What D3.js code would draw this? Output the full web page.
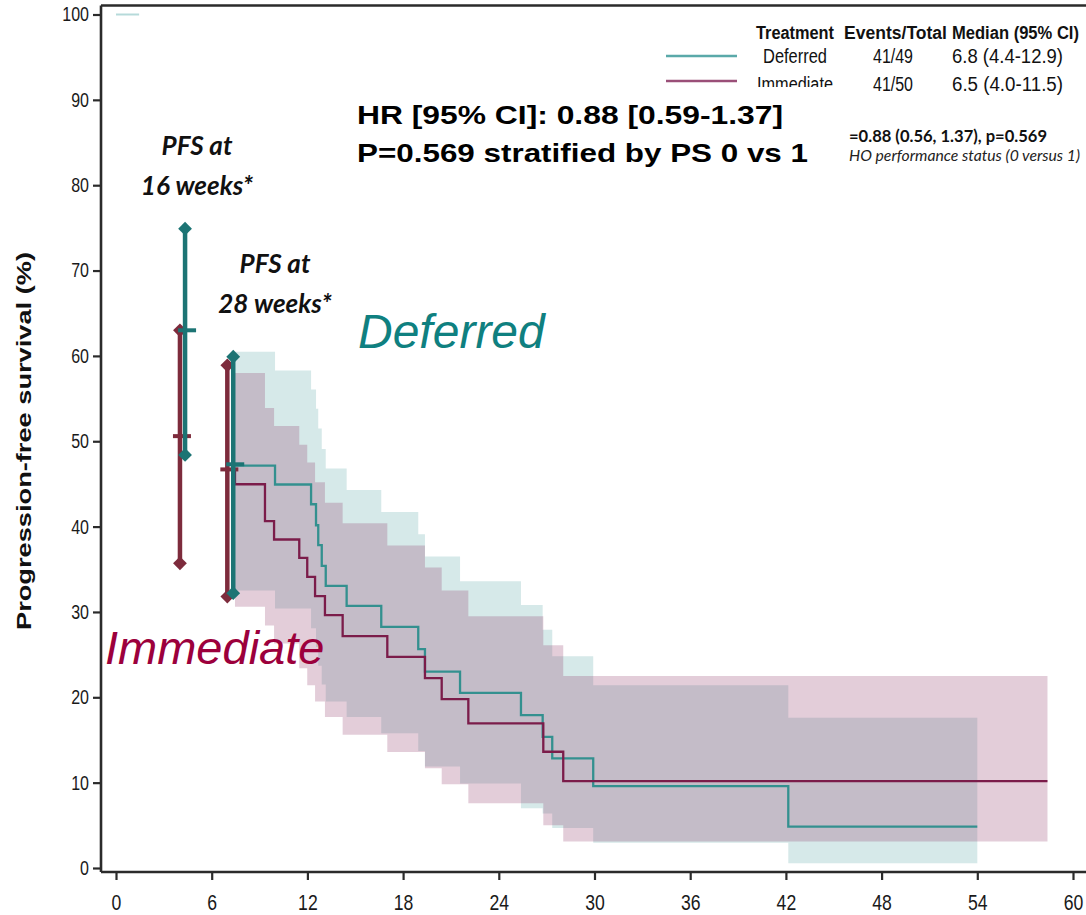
<!DOCTYPE html>
<html>
<head>
<meta charset="utf-8">
<script src="https://cdn.jsdelivr.net/npm/d3@7"></script>
<style>
  body { margin: 0; background: #fff; }
  svg { display: block; }
</style>
</head>
<body>
<div class="chart"></div>
<script>

// ---- data (weeks, % progression-free) ----
const xTicks = [0, 6, 12, 18, 24, 30, 36, 42, 48, 54, 60];
const yTicks = [0, 10, 20, 30, 40, 50, 60, 70, 80, 90, 100];

// Deferred arm: step times (last value = end of follow-up)
const defTimes = [7.34, 9.97, 12.23, 12.54, 12.68, 12.90, 13.15, 14.46, 16.63, 18.95, 19.37, 21.57, 25.39, 26.75, 27.35, 29.92, 42.15, 54.0];
const defSurv  = [47.15, 44.93, 42.62, 40.16, 37.82, 35.40, 33.06, 30.71, 28.26, 25.64, 23.01, 20.53, 17.92, 15.37, 12.85, 9.60, 4.84];
const defUpper = [60.5, 58.3, 56.05, 53.8, 51.5, 49.1, 46.8, 44.3, 41.7, 39.1, 36.5, 33.6, 30.8, 27.9, 24.8, 21.4, 17.6];
const defLower = [32.5, 30.4, 28.1, 25.9, 23.7, 21.5, 19.5, 17.7, 15.8, 13.7, 11.9, 9.9, 7.0, 6.4, 4.7, 2.96, 0.55];
const defEarlyTimes = [0, 1.45];
const defEarlySurv = 100;

// Immediate arm
const immTimes = [7.46, 9.34, 9.91, 11.49, 11.99, 12.48, 13.10, 14.21, 17.01, 19.37, 20.42, 22.09, 26.79, 28.04, 58.4];
const immSurv  = [44.96, 40.63, 38.49, 36.33, 34.11, 31.85, 29.63, 27.17, 24.74, 22.25, 19.79, 16.94, 13.62, 10.19];
const immUpper = [58.0, 53.9, 51.8, 49.6, 47.5, 45.2, 42.8, 40.4, 37.8, 35.2, 32.5, 29.5, 26.1, 22.5];
const immLower = [30.6, 28.4, 26.3, 23.4, 21.4, 19.5, 17.7, 15.6, 13.6, 11.7, 9.8, 7.6, 5.0, 3.1];
const immStartSurv = 46.8;

// PFS estimates at 16 and 28 weeks (position on axis, estimate, 95% CI)
const pfsLabels = [["PFS at", "16 weeks*"], ["PFS at", "28 weeks*"]];
const defBarX = [4.33, 7.35], defBarEst = [63.0, 47.3], defBarLo = [48.4, 32.2], defBarHi = [74.9, 59.9];
const immBarX = [4.01, 6.98], immBarEst = [50.6, 46.7], immBarLo = [35.7, 31.8], immBarHi = [63.0, 58.9];

// legend table
const legendHeader = ["Treatment", "Events/Total", "Median (95% CI)"];
const arms = ["Deferred", "Immediate"];
const events = ["41/49", "41/50"];
const medians = ["6.8 (4.4-12.9)", "6.5 (4.0-11.5)"];

const hrLines = ["HR [95% CI]: 0.88 [0.59-1.37]", "P=0.569 stratified by PS 0 vs 1"];
const hrSmall = ["=0.88 (0.56, 1.37), p=0.569", "HO performance status (0 versus 1)"];

// ---- colours ----
const teal = "#33908f", maroon = "#7b1c4a";
const tealBar = "#1c7474", maroonBar = "#7d2b3c";

let svg = d3.select(".chart").append("svg").attr("width", 1086).attr("height", 915);

let x = d3.scaleLinear().domain([0, 60]).range([116, 1073]);
let y = d3.scaleLinear().domain([0, 100]).range([868, 14.5]);

function steps(times, vals) {
  let pts = vals.map((v, i) => [times[i], v]);
  pts.push([times[times.length - 1], vals[vals.length - 1]]);
  return pts;
}
function bandPts(times, lo, hi) {
  let pts = lo.map((v, i) => ({t: times[i], lo: v, hi: hi[i]}));
  pts.push({t: times[times.length - 1], lo: lo[lo.length - 1], hi: hi[hi.length - 1]});
  return pts;
}

let line = d3.line().x(d => x(d[0])).y(d => y(d[1])).curve(d3.curveStepAfter);
let area = d3.area().x(d => x(d.t)).y0(d => y(d.lo)).y1(d => y(d.hi)).curve(d3.curveStepAfter);

// confidence bands
svg.append("path").attr("d", area(bandPts(defTimes, defLower, defUpper)))
  .attr("fill", "rgb(91,167,167)").attr("fill-opacity", 0.25);
svg.append("path").attr("d", area(bandPts(immTimes, immLower, immUpper)))
  .attr("fill", "rgb(138,47,97)").attr("fill-opacity", 0.24);

// KM lines
svg.append("path").attr("d", line(defEarlyTimes.map(t => [t, defEarlySurv])))
  .attr("fill", "none").attr("stroke", "#b6dada").attr("stroke-width", 2);
svg.append("path").attr("d", line(steps(defTimes, defSurv)))
  .attr("fill", "none").attr("stroke", teal).attr("stroke-width", 2.3);
svg.append("path").attr("d", line([[immTimes[0], immStartSurv]].concat(steps(immTimes, immSurv))))
  .attr("fill", "none").attr("stroke", maroon).attr("stroke-width", 2.3);

// axes (labels squeezed horizontally like the narrow font of the original)
const sq = 0.8;
let yAxis = svg.append("g").attr("transform", "translate(101,0)")
  .call(d3.axisLeft(y).tickValues(yTicks).tickSize(8).tickPadding(4));
let xAxis = svg.append("g").attr("transform", "translate(0,872)")
  .call(d3.axisBottom(x).tickValues(xTicks).tickSize(8));
[yAxis, xAxis].forEach(g => {
  g.select(".domain").remove();
  g.selectAll("line").attr("stroke", "#2b2b2b").attr("stroke-width", 2.2);
  g.selectAll("text").attr("fill", "#1a1a1a").attr("transform", `scale(${sq},1)`)
    .style("font-family", "'Liberation Sans', Arial, sans-serif");
});
yAxis.selectAll("text").style("font-size", "20px").attr("x", -12 / sq);
xAxis.selectAll("text").style("font-size", "22px").attr("dy", null).attr("y", 38);

svg.append("path").attr("d", "M101,5.5H1086M101,5.5V872M101,872H1086")
  .attr("fill", "none").attr("stroke", "#2b2b2b").attr("stroke-width", 2.6);

svg.append("text").attr("transform", "translate(31,441) rotate(-90)")
  .attr("text-anchor", "middle")
  .attr("textLength", 378).attr("lengthAdjust", "spacingAndGlyphs")
  .style("font-family", "'Liberation Sans', Arial, sans-serif").style("font-weight", "bold").style("font-size", "20px")
  .attr("fill", "#111").text("Progression-free survival (%)");

// PFS error bars
function bars(xs, est, lo, hi, col) {
  let g = svg.append("g");
  xs.forEach((xv, i) => {
    let cx = x(xv);
    g.append("line").attr("x1", cx).attr("x2", cx).attr("y1", y(hi[i])).attr("y2", y(lo[i]))
      .attr("stroke", col).attr("stroke-width", 4.5);
    g.append("line").attr("x1", cx - 7).attr("x2", cx + 11).attr("y1", y(est[i])).attr("y2", y(est[i]))
      .attr("stroke", col).attr("stroke-width", 4);
    [hi[i], lo[i]].forEach(v => {
      g.append("path").attr("d", d3.symbol(d3.symbolSquare, 95)())
        .attr("transform", `translate(${cx},${y(v)}) rotate(45)`).attr("fill", col);
    });
  });
}
bars(immBarX, immBarEst, immBarLo, immBarHi, maroonBar);
bars(defBarX, defBarEst, defBarLo, defBarHi, tealBar);

const pfsPos = [[197, 155, 195], [275, 273, 313]];
pfsLabels.forEach((lab, i) => {
  lab.forEach((s, j) => {
    svg.append("text").attr("x", pfsPos[i][0]).attr("y", pfsPos[i][1 + j])
      .attr("text-anchor", "middle")
      .style("font-family", "Lato, 'Open Sans', sans-serif").style("font-style", "italic")
      .style("font-weight", "bold").style("font-size", "26px").attr("fill", "#111").text(s);
  });
});

// arm labels
svg.append("text").attr("x", 358).attr("y", 348)
  .style("font-family", "'Liberation Sans', Arial, sans-serif").style("font-style", "italic")
  .style("font-size", "48px").attr("fill", "#0f8080").text(arms[0]);
svg.append("text").attr("x", 105).attr("y", 664)
  .style("font-family", "'Liberation Sans', Arial, sans-serif").style("font-style", "italic")
  .style("font-size", "47px").attr("fill", "#9c003c").text(arms[1]);

// HR text
hrLines.forEach((s, i) => {
  svg.append("text").attr("x", 357).attr("y", 124 + i * 38)
    .attr("textLength", i === 0 ? 426 : 451).attr("lengthAdjust", "spacingAndGlyphs")
    .style("font-family", "'Liberation Sans', Arial, sans-serif").style("font-weight", "bold")
    .style("font-size", "25px").attr("fill", "#000").text(s);
});

// legend table (widths fitted to the narrow face of the original)
function cell(s, x0, y0, w, bold, clip, size) {
  svg.append("text").attr("x", x0).attr("y", y0)
    .attr("textLength", w).attr("lengthAdjust", "spacingAndGlyphs")
    .attr("clip-path", clip ? "url(#cut)" : null)
    .style("font-family", "'Liberation Sans', Arial, sans-serif")
    .style("font-weight", bold ? "bold" : "normal").style("font-size", size + "px")
    .attr("fill", "#111").text(s);
}
const headX = [756, 844, 952], headW = [78, 103, 127];
legendHeader.forEach((s, i) => cell(s, headX[i], 39, headW[i], true, false, 17.5));

svg.append("defs").append("clipPath").attr("id", "cut")
  .append("rect").attr("x", 0).attr("y", 0).attr("width", 1086).attr("height", 87);
const armX = [763, 757], armW = [64, 76];
[teal, maroon].forEach((c, i) => {
  let ry = [56, 81][i];
  svg.append("line").attr("x1", 666).attr("x2", 737).attr("y1", ry).attr("y2", ry)
    .attr("stroke", i === 0 ? "#5aa9a9" : "#9a4f78").attr("stroke-width", 2.5);
  let by = [63, 91][i];
  cell(arms[i], armX[i], by, armW[i], false, i === 1, 20);
  cell(events[i], 873, by, 40, false, false, 20);
  cell(medians[i], 952, by, 111, false, false, 20);
});

svg.append("text").attr("x", 849).attr("y", 142)
  .attr("textLength", 198).attr("lengthAdjust", "spacingAndGlyphs")
  .style("font-family", "Lato, sans-serif").style("font-weight", "bold").style("font-size", "17px")
  .attr("fill", "#111").text(hrSmall[0]);
svg.append("text").attr("x", 849).attr("y", 161)
  .attr("textLength", 231).attr("lengthAdjust", "spacingAndGlyphs")
  .style("font-family", "Lato, sans-serif").style("font-style", "italic").style("font-size", "15px")
  .attr("fill", "#222").text(hrSmall[1]);

</script>
</body>
</html>
